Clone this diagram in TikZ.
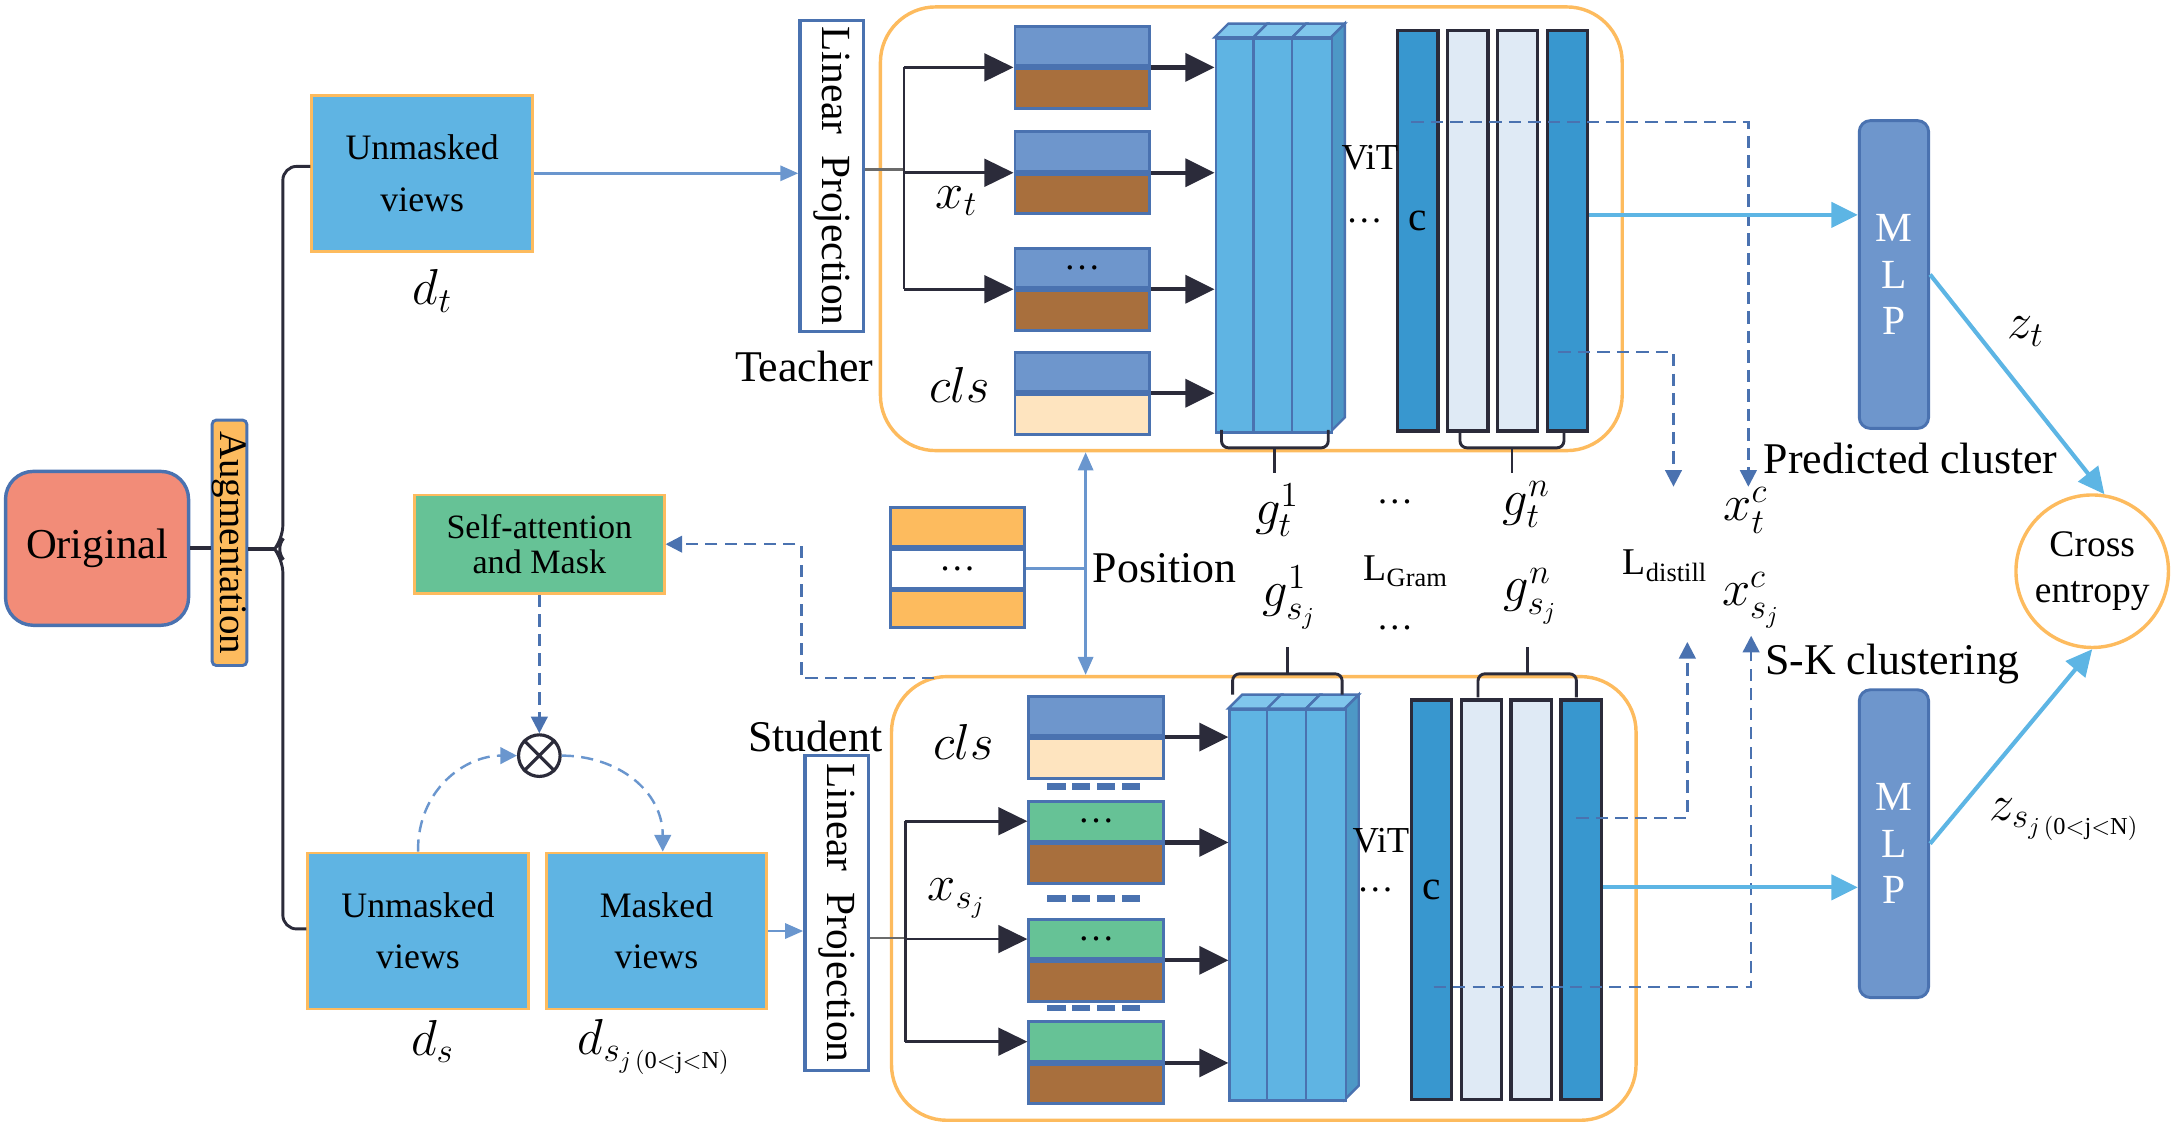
\documentclass[tikz,border=0pt]{standalone}
\usepackage{fontspec}
\setmainfont{Liberation Serif}
\usepackage{graphicx}
\usetikzlibrary{arrows.meta,calc}

\definecolor{salmon}{HTML}{F28C78}
\definecolor{edgeblue}{HTML}{4A72B0}
\definecolor{tokblue}{HTML}{6E96CC}
\definecolor{tokbrown}{HTML}{A86F3D}
\definecolor{peach}{HTML}{FEE4BF}
\definecolor{mint}{HTML}{66C296}
\definecolor{amber}{HTML}{FDBB5E}
\definecolor{sky}{HTML}{5FB4E3}
\definecolor{skytop}{HTML}{80C6EC}
\definecolor{skyside}{HTML}{4D98C6}
\definecolor{bardark}{HTML}{3897CF}
\definecolor{barlight}{HTML}{DFEAF5}
\definecolor{barline}{HTML}{2B2B3A}
\definecolor{linkblue}{HTML}{6A96CE}
\definecolor{cyanline}{HTML}{5DB5E4}
\definecolor{stem}{HTML}{6B6B6B}

\tikzset{
	view/.style={draw=amber, fill=sky, line width=1.2pt, minimum width=31.8mm, minimum height=22.5mm, align=center, font=\fontsize{14.7}{21}\selectfont},
	proj/.style={draw=edgeblue, fill=white, line width=1.4pt, minimum width=9.2mm, minimum height=44.8mm, inner sep=0pt, font=\fontsize{17}{17}\selectfont},
	tokhalf/.style={draw=edgeblue, line width=1.2pt, anchor=north west, minimum width=19.4mm, minimum height=5.7mm, inner sep=0pt, font=\fontsize{15}{15}\selectfont},
	frame/.style={draw=amber, line width=1.4pt, rounded corners=8mm, minimum height=64mm},
	slabedge/.style={draw=edgeblue, line width=1pt},
	bar/.style={draw=barline, line width=1.5pt, minimum width=5.8mm, minimum height=57.8mm, inner sep=0pt},
	mlp/.style={draw=edgeblue, fill=tokblue, line width=1.2pt, rounded corners=1.6mm, minimum width=10mm, minimum height=44.4mm, align=center, text=white, font=\fontsize{17}{19}\selectfont},
	feed/.style={draw=barline, line width=1.8pt, -{Triangle[length=4.2mm,width=4mm]}},
	forkline/.style={draw=barline, line width=1.1pt},
	forkarrow/.style={forkline, -{Triangle[length=4.2mm,width=4mm]}},
	link/.style={draw=linkblue, line width=1pt},
	linkarrow/.style={link, -{Triangle[length=2.6mm,width=2.2mm]}},
	cyanarrow/.style={draw=cyanline, line width=1.7pt, -{Triangle[length=3.8mm,width=3.6mm]}},
	dsh/.style={draw=edgeblue, line width=1pt, dash pattern=on 5pt off 3pt, -{Triangle[length=2.4mm,width=2.4mm]}},
	dshl/.style={dsh, draw=linkblue},
	brc/.style={draw=barline, line width=1.2pt, rounded corners=1mm},
	lbl/.style={inner sep=0pt, font=\fontsize{18}{21}\selectfont},
	mth/.style={inner sep=0pt, font=\fontsize{20}{24}\selectfont},
	small/.style={inner sep=0pt, font=\fontsize{15}{15}\selectfont},
}

% token: name, left x, top y, upper fill, lower fill, upper text
\newcommand\tokenbox[6]{%
	\node[tokhalf, fill=#4] (#1) at (#2,#3) {#6};
	\node[tokhalf, fill=#5, anchor=north] (#1b) at (#1.south) {};
}
% encoder slabs: name, left x, top y, bottom y, height
\newcommand\encoder[5]{%
	\foreach \k in {0,1,2}
		\draw[slabedge, fill=skytop] ({#2+28*\k},#3) -- ++(10,-10) -- ++(28,0) -- ++(-10,10) -- cycle;
	\draw[slabedge, fill=skyside] (#2+84,#3) -- ++(10,-10) -- (#2+94,#4-10) -- (#2+84,#4) -- cycle;
	\node[slabedge, fill=sky, anchor=north west, minimum width=16.8mm, minimum height=#5, inner sep=0pt] (#1) at (#2,#3) {};
	\draw[slabedge] (#2+28,#3) -- (#2+28,#4) (#2+56,#3) -- (#2+56,#4);
}
% brace: x1, x2, y of ends, y of line, y of tip
\newcommand\gbrace[5]{%
	\draw[brc] (#1,#3) -- (#1,#4) -- (#2,#4) -- (#2,#3);
	\draw[brc] ({(#1+#2)/2},#4) -- ({(#1+#2)/2},#5);
}

\begin{document}
\begin{tikzpicture}[x=0.2mm, y=-0.2mm]
	%%%%% START %%%%%
	\useasboundingbox (0,0) rectangle (1568,814);

	% views and augmentation
	\node[draw=edgeblue, fill=salmon, line width=1.4pt, rounded corners=4mm, minimum width=26.4mm, minimum height=22.2mm, font=\fontsize{17.5}{20}\selectfont] (orig) at (70,395.5) {Original};
	\node[draw=edgeblue, fill=amber, line width=1.2pt, rounded corners=0.6mm, minimum width=5mm, minimum height=35.4mm, inner sep=0pt, font=\fontsize{16}{16}\selectfont] (aug) at (165.5,391.5) {\rotatebox{-90}{Augmentation}};
	\node[view] (unmT) at (304.5,125) {Unmasked\\views};
	\node[view] (unmS) at (301.5,671.5) {Unmasked\\views};
	\node[view] (mskS) at (473.5,671.5) {Masked\\views};
	\node[mth] (dt) at (312,210) {$d_t$};
	\node[mth] (ds) at (312,751) {$d_s$};
	\node[mth] (dsj) at (472,755) {$d_{s_{j\,\mathrm{(0<j<N)}}}$};

	\coordinate (brM) at (198,396);
	\draw[draw=barline, line width=1.6pt] (orig.east) -- (orig.east -| aug.west);
	\draw[draw=barline, line width=1.6pt] (aug.east |- brM) -- (brM);
	\draw[brc, rounded corners=2mm] ($(unmT.west)+(0,-5)$) -- (204,120) -- (204,389) -- (brM) -- (204,403) -- (204,670) -- ($(unmS.west)+(0,-1.5)$);

	% masking
	\node[draw=amber, fill=mint, line width=1.2pt, minimum width=36mm, minimum height=14.2mm, align=center, font=\fontsize{14}{14.5}\selectfont] (sam) at (389,392.5) {Self-attention\\and Mask};
	\node[circle, draw=barline, fill=white, line width=1.3pt, minimum size=6mm, inner sep=0pt] (mul) at (389,545) {};
	\draw[draw=barline, line width=1.3pt] (mul.45) -- (mul.225) (mul.135) -- (mul.315);
	\draw[dsh] (sam.south) -- (mul.north);
	\draw[dshl] (unmS.north) .. controls (301,570) and (335,545) .. (mul.west);
	\draw[dshl] (mul.east) .. controls (445,545) and (478,570) .. ($(mskS.north)+(4.5,0)$);

	% linear projections
	\node[proj] (lpT) at (600,127) {\rotatebox{-90}{Linear\enspace Projection}};
	\node[proj, minimum height=45.4mm] (lpS) at (603.5,658.5) {\rotatebox{-90}{Linear\enspace Projection}};
	\draw[linkarrow] (unmT.east) -- (unmT.east -| lpT.west);
	\draw[linkarrow] (mskS.east) -- (mskS.east -| lpS.west);
	\node[lbl] (teach) at (580,264) {Teacher};
	\node[lbl] (stud) at (588,531) {Student};

	% frames and position
	\node[frame, minimum width=107mm] (frmT) at (902.5,165) {};
	\node[frame, minimum width=107.4mm] (frmS) at (911.5,648) {};
	\node[tokhalf, fill=amber, minimum height=5.6mm] (posA) at (641,365) {};
	\node[tokhalf, fill=white, anchor=north, minimum height=5.6mm] (posM) at (posA.south) {\ldots};
	\node[tokhalf, fill=amber, anchor=north, minimum height=5.2mm] (posB) at (posM.south) {};
	\coordinate (posx) at (783,407);
	\draw[link] (posM.east) -- (posM.east -| posx);
	\draw[link, {Triangle[length=2.6mm,width=2.2mm]}-{Triangle[length=2.6mm,width=2.2mm]}] (posx |- frmT.south) -- (posx |- frmS.north);
	\node[lbl] (posl) at (840,410) {Position};

	% teacher tokens
	\tokenbox{tA}{731}{18}{tokblue}{tokbrown}{}
	\tokenbox{tB}{731}{94}{tokblue}{tokbrown}{}
	\tokenbox{tC}{731}{178}{tokblue}{tokbrown}{\ldots}
	\tokenbox{tK}{731}{253}{tokblue}{peach}{}
	\node[mth] (xt) at (690,145) {$x_t$};
	\node[mth] (clsT) at (692,278) {$cls$};
	\coordinate (fkT) at (652,122.5);
	\draw[forkline, draw=stem] (lpT.east |- fkT) -- (fkT);
	\draw[forkline] (fkT |- tA.south) -- (fkT |- tC.south);
	\foreach \tk in {tA,tB,tC}
		\draw[forkarrow] (fkT |- \tk.south) -- (\tk.south west);

	% teacher encoder
	\encoder{encT}{876}{27}{311}{56.8mm}
	\foreach \tk in {tA,tB,tC,tK}
		\draw[feed] (\tk.south east) -- (\tk.south east -| encT.west);
	\foreach \i/\col in {1/bardark,2/barlight,3/barlight,4/bardark}
		\node[bar, fill=\col] (barT\i) at ({986.5+36*\i},166.5) {};
	\node[small, font=\fontsize{17}{17}\selectfont] (cT) at (1022.5,159) {c};
	\node[small] (vitT) at (988,114) {ViT};
	\node[small] (dotT) at (984,159) {\ldots};
	\gbrace{881}{958}{310}{323}{341}
	\gbrace{1053}{1128}{310}{323}{341}

	% student tokens
	\tokenbox{sK}{741}{501}{tokblue}{peach}{}
	\tokenbox{sB}{741}{577}{mint}{tokbrown}{\ldots}
	\tokenbox{sC}{741}{662}{mint}{tokbrown}{\ldots}
	\tokenbox{sD}{741}{736}{mint}{tokbrown}{}
	\foreach \yy in {567,648,727}
		\foreach \xx in {755,773,791,809}
			\fill[edgeblue] (\xx,\yy-2.5) rectangle ++(13.5,5);
	\node[mth] (clsS) at (695,535) {$cls$};
	\node[mth] (xs) at (690,648) {$x_{s_j}$};
	\coordinate (fkS) at (653,676.5);
	\draw[forkline, draw=stem] (lpS.east |- fkS) -- (fkS);
	\draw[forkline] (fkS |- sB.west) -- (fkS |- sD.west);
	\foreach \tk in {sB,sC,sD}
		\draw[forkarrow] (fkS |- \tk.west) -- (\tk.west);

	% student encoder
	\encoder{encS}{886}{511}{793}{56.4mm}
	\foreach \tk in {sK,sB,sC,sD}
		\draw[feed] (\tk.south east) -- (\tk.south east -| encS.west);
	\foreach \i/\col in {1/bardark,2/barlight,3/barlight,4/bardark}
		\node[bar, fill=\col, minimum height=57.6mm] (barS\i) at ({996.5+36*\i},649) {};
	\node[small, font=\fontsize{17}{17}\selectfont] (cS) at (1032.5,642) {c};
	\node[small] (vitS) at (996,606) {ViT};
	\node[small] (dotS) at (992,642) {\ldots};
	\gbrace{889}{968}{501}{486}{467}
	\gbrace{1066}{1137}{503}{486}{467}

	% gram and distill labels
	\node[mth] (gt1) at (921,368) {$g_t^1$};
	\node[small] (dotG1) at (1006,362) {\ldots};
	\node[mth] (gtn) at (1101,364) {$g_t^n$};
	\node[lbl, font=\fontsize{15.5}{18}\selectfont] (lgram) at (1014,412) {L\textsubscript{Gram}};
	\node[mth] (gs1) at (930,431) {$g_{s_j}^1$};
	\node[mth] (gsn) at (1104,430) {$g_{s_j}^n$};
	\node[small] (dotG2) at (1006,453) {\ldots};
	\node[lbl, font=\fontsize{15.5}{18}\selectfont] (ldist) at (1201,408) {L\textsubscript{distill}};
	\node[mth] (xtc) at (1259,368) {$x_t^c$};
	\node[mth] (xsc) at (1263,433) {$x_{s_j}^c$};

	% dashed feature paths
	\coordinate (qT1) at (1018,88);
	\coordinate (qT2) at (1124,254);
	\coordinate (eT2) at (1207,351);
	\coordinate (qS1) at (1137,590);
	\coordinate (eS1) at (1217,463);
	\coordinate (qS2) at (1034,712);
	\coordinate (qA) at (674,489);
	\draw[dsh] (qT1) -| ([xshift=0.4mm]xtc.north);
	\draw[dsh] (qT2) -| (eT2);
	\draw[dsh] (qS1) -| (eS1);
	\draw[dsh] (qS2) -| ([yshift=-1mm]xsc.south);
	\draw[dsh] (qA) -- (578,489) |- (sam.east);

	% heads
	\node[mlp] (mlpT) at (1366,198) {M\\L\\P};
	\node[mlp] (mlpS) at (1366,608.5) {M\\L\\P};
	\node[circle, draw=amber, line width=1.4pt, minimum size=22mm, inner sep=0pt, align=center, font=\fontsize{15.4}{19}\selectfont] (ce) at (1509,412) {Cross\\entropy};
	\coordinate (yT) at (0,155);
	\coordinate (yS) at (0,640);
	\draw[cyanarrow] (barT4.east |- yT) -- (mlpT.west |- yT);
	\draw[cyanarrow] (barS4.east |- yS) -- (mlpS.west |- yS);
	\draw[cyanarrow] (mlpT.east) -- (ce.81);
	\draw[cyanarrow] (mlpS.east) -- (ce.south);
	\node[mth] (zt) at (1461,239) {$z_t$};
	\node[mth] (zs) at (1489,591) {$z_{s_{j\,\mathrm{(0<j<N)}}}$};
	\node[lbl] (pred) at (1378,331) {Predicted cluster};
	\node[lbl] (skc) at (1365,479) {S-K clustering};
	%%%%% END %%%%%
\end{tikzpicture}
\end{document}
